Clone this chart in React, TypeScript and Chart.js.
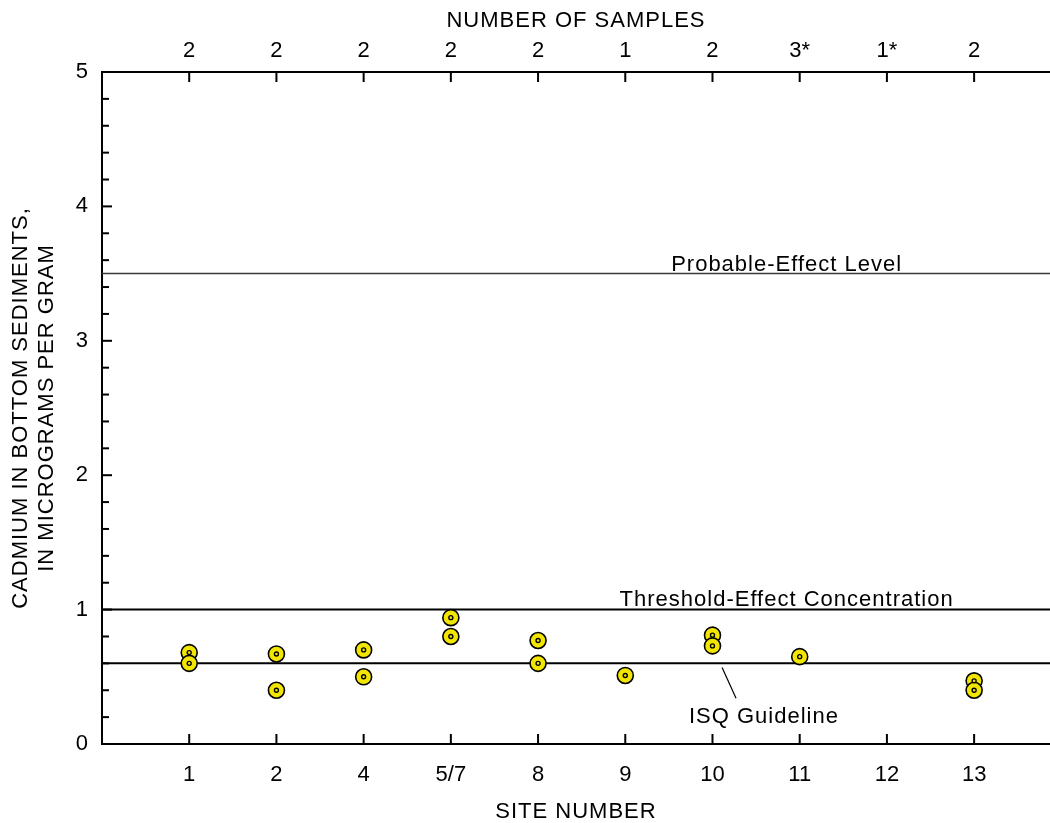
import { useEffect, useRef } from 'react';
import { Chart, registerables } from 'chart.js';

Chart.register(...registerables);

// ---- data ----
const sites = ['1', '2', '4', '5/7', '8', '9', '10', '11', '12', '13'];
const sampleCounts = ['2', '2', '2', '2', '2', '1', '2', '3*', '1*', '2'];
const sampleSiteIndex = [0, 0, 1, 1, 2, 2, 3, 3, 4, 4, 5, 6, 6, 7, 9, 9];
const cadmiumValues = [0.68, 0.6, 0.67, 0.4, 0.7, 0.5, 0.94, 0.8, 0.77, 0.6, 0.51, 0.81, 0.73, 0.65, 0.47, 0.4];
const yTickValues = [0, 1, 2, 3, 4, 5];
const probableEffectLevel = 3.5;
const thresholdEffectConcentration = 1.0;
const isqGuideline = 0.6;
const isqLeader = [
  { x: 6.11, y: 0.57 },
  { x: 6.27, y: 0.34 },
];

const X_MIN = -1;
const X_MAX = 9.87;
const FONT = '"Liberation Sans", Arial, Helvetica, sans-serif';
const YELLOW = '#f2e600';

const points = sampleSiteIndex.map((s, i) => ({ x: s, y: cadmiumValues[i] }));
const hLine = (v: number) => [
  { x: X_MIN, y: v },
  { x: X_MAX, y: v },
];

const decorPlugin = {
  id: 'decor',
  afterDraw(chart: any) {
    const ctx = chart.ctx as CanvasRenderingContext2D;
    const { left, right, top, bottom } = chart.chartArea;
    const xs = chart.scales.x;
    const ys = chart.scales.y;
    const seg = (x1: number, y1: number, x2: number, y2: number) => {
      ctx.beginPath();
      ctx.moveTo(x1, y1);
      ctx.lineTo(x2, y2);
      ctx.stroke();
    };
    ctx.save();
    ctx.strokeStyle = '#000';
    ctx.lineWidth = 2;
    for (let k = 0; k <= 25; k++) {
      const py = ys.getPixelForValue(k * 0.2);
      seg(left, py, left + (k % 5 === 0 ? 10 : 7), py);
    }
    sites.forEach((_, i) => {
      const px = xs.getPixelForValue(i);
      seg(px, bottom, px, bottom - 10);
      seg(px, top, px, top + 10);
    });

    ctx.fillStyle = '#000';
    ctx.font = `22px ${FONT}`;
    try {
      (ctx as any).letterSpacing = '1px';
    } catch (e) {}
    ctx.textAlign = 'center';
    ctx.textBaseline = 'alphabetic';
    ctx.fillText('Probable-Effect Level', xs.getPixelForValue(6.85), ys.getPixelForValue(probableEffectLevel) - 3);
    ctx.fillText('Threshold-Effect Concentration', xs.getPixelForValue(6.85), ys.getPixelForValue(thresholdEffectConcentration) - 4);
    ctx.fillText('ISQ Guideline', xs.getPixelForValue(6.59), ys.getPixelForValue(isqGuideline) + 60);

    const cx = (left + right) / 2;
    ctx.textBaseline = 'middle';
    ctx.fillText('NUMBER OF SAMPLES', cx, 21);
    ctx.fillText('SITE NUMBER', cx, 812);

    const cy = (top + bottom) / 2;
    ctx.save();
    ctx.translate(21, cy);
    ctx.rotate(-Math.PI / 2);
    ctx.fillText('CADMIUM IN BOTTOM SEDIMENTS,', 0, 0);
    ctx.restore();
    ctx.save();
    ctx.translate(47, cy);
    ctx.rotate(-Math.PI / 2);
    ctx.fillText('IN MICROGRAMS PER GRAM', 0, 0);
    ctx.restore();

    ctx.restore();
  },
};

export default function App() {
  const ref = useRef<HTMLCanvasElement | null>(null);

  useEffect(() => {
    if (!ref.current) return;
    const tickFont = { family: FONT, size: 22 };
    const chart = new Chart(ref.current, {
      type: 'scatter',
      data: {
        datasets: [
          {
            data: points,
            pointRadius: 2,
            pointBorderWidth: 1.4,
            pointBackgroundColor: YELLOW,
            pointBorderColor: '#000',
            order: 0,
          },
          {
            data: points,
            pointRadius: 8,
            pointBorderWidth: 1.6,
            pointBackgroundColor: YELLOW,
            pointBorderColor: '#000',
            order: 1,
          },
          {
            data: hLine(probableEffectLevel),
            showLine: true,
            borderColor: '#3a3a3a',
            borderWidth: 1.5,
            pointRadius: 0,
            order: 2,
          },
          {
            data: hLine(thresholdEffectConcentration),
            showLine: true,
            borderColor: '#000',
            borderWidth: 2,
            pointRadius: 0,
            order: 2,
          },
          {
            data: hLine(isqGuideline),
            showLine: true,
            borderColor: '#000',
            borderWidth: 2,
            pointRadius: 0,
            order: 2,
          },
          {
            data: isqLeader,
            showLine: true,
            borderColor: '#000',
            borderWidth: 1.2,
            pointRadius: 0,
            order: 2,
          },
        ],
      },
      options: {
        responsive: false,
        animation: false,
        layout: { padding: 0, autoPadding: false },
        plugins: { legend: { display: false }, tooltip: { enabled: false } },
        scales: {
          x: {
            type: 'linear',
            position: 'bottom',
            min: X_MIN,
            max: X_MAX,
            afterBuildTicks: (s: any) => {
              s.ticks = sites.map((_, i) => ({ value: i }));
            },
            afterFit: (s: any) => {
              s.height = 79;
              s.paddingLeft = 0;
              s.paddingRight = 0;
            },
            ticks: {
              autoSkip: false,
              maxRotation: 0,
              padding: 18,
              color: '#000',
              font: tickFont,
              callback: (v: any) => sites[v as number] ?? '',
            },
            grid: { display: false, drawTicks: false },
            border: { display: true, color: '#000', width: 2 },
          },
          x2: {
            type: 'linear',
            position: 'top',
            min: X_MIN,
            max: X_MAX,
            afterBuildTicks: (s: any) => {
              s.ticks = sampleCounts.map((_, i) => ({ value: i }));
            },
            afterFit: (s: any) => {
              s.height = 72;
              s.paddingLeft = 0;
              s.paddingRight = 0;
            },
            ticks: {
              autoSkip: false,
              maxRotation: 0,
              padding: 8,
              color: '#000',
              font: tickFont,
              callback: (v: any) => sampleCounts[v as number] ?? '',
            },
            grid: { display: false, drawTicks: false },
            border: { display: true, color: '#000', width: 2 },
          },
          y: {
            type: 'linear',
            position: 'left',
            min: 0,
            max: 5,
            afterBuildTicks: (s: any) => {
              s.ticks = yTickValues.map((v) => ({ value: v }));
            },
            afterFit: (s: any) => {
              s.width = 102;
              s.paddingTop = 0;
              s.paddingBottom = 0;
            },
            ticks: {
              padding: 14,
              color: '#000',
              font: tickFont,
            },
            grid: { display: false, drawTicks: false },
            border: { display: true, color: '#000', width: 2 },
          },
        },
      },
      plugins: [decorPlugin],
    } as any);
    return () => chart.destroy();
  }, []);

  return (
    <div style={{ position: 'absolute', left: 0, top: 0, width: 1050, height: 823, background: '#fff' }}>
      <canvas ref={ref} width={1050} height={823} style={{ display: 'block' }} />
    </div>
  );
}
